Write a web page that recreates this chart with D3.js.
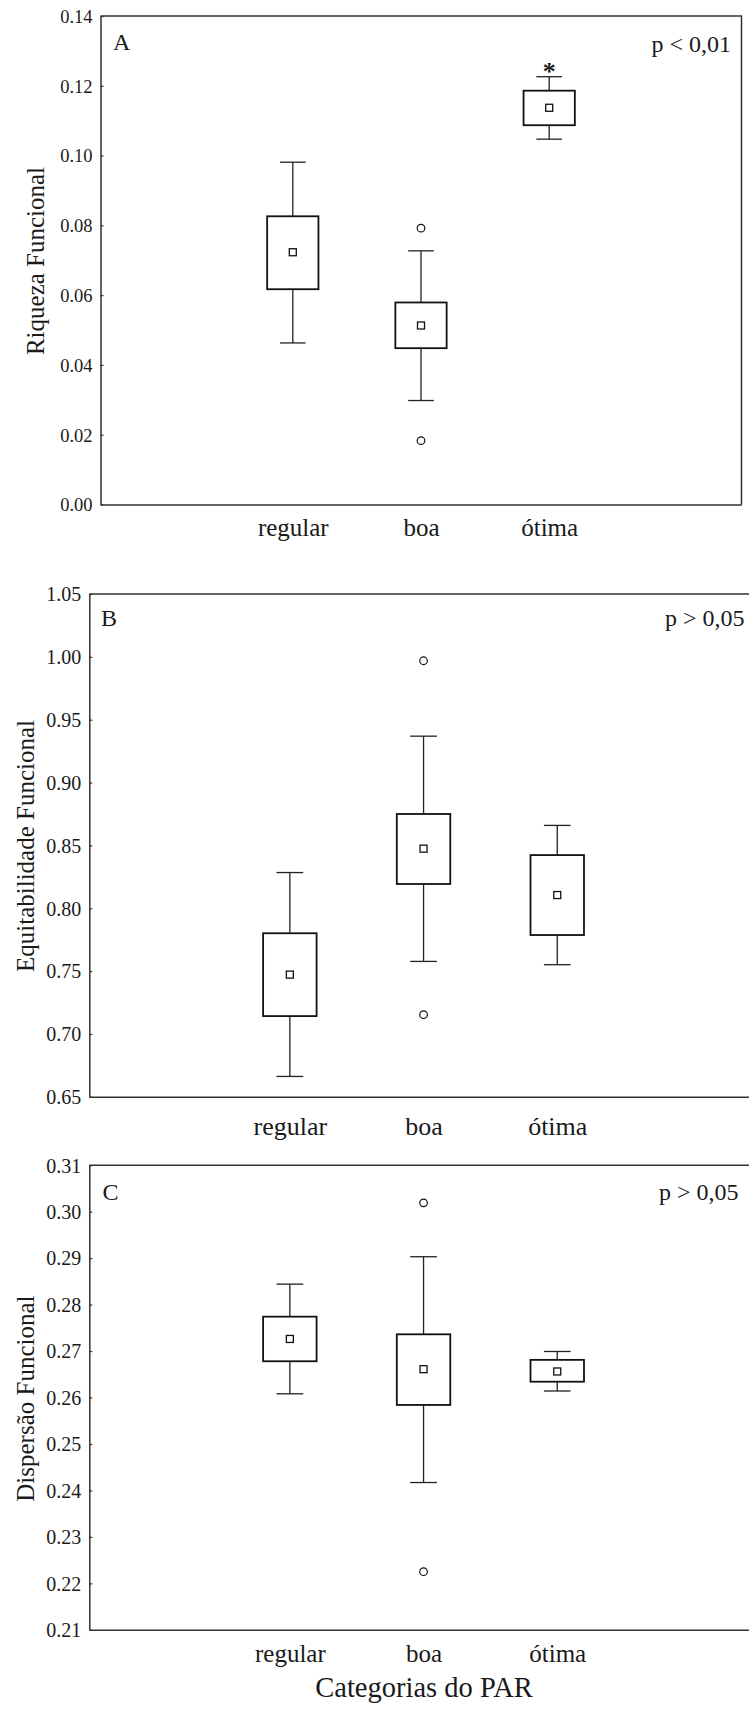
<!DOCTYPE html>
<html>
<head>
<meta charset="utf-8">
<script src="https://cdn.jsdelivr.net/npm/d3@7"></script>
<style>
  body { margin: 0; background: #fff; }
</style>
</head>
<body>
<div id="chart"></div>
<script>
// categories shared by the three panels
var categories = ["regular", "boa", "ótima"];

// each box: [whisker low, box low, mean, box high, whisker high]
var riqueza = [
    [0.0463, 0.0617, 0.0723, 0.0826, 0.0981],
    [0.0298, 0.0448, 0.0513, 0.0579, 0.0727],
    [0.1047, 0.1087, 0.1137, 0.1186, 0.1226]
];
var riquezaOutliers = [[], [0.0183, 0.0792], []];
var riquezaTicks = [0, 0.02, 0.04, 0.06, 0.08, 0.10, 0.12, 0.14];

var equitabilidade = [
    [0.6662, 0.7142, 0.7472, 0.7801, 0.8284],
    [0.7577, 0.8193, 0.8474, 0.8750, 0.9369],
    [0.7551, 0.7787, 0.8105, 0.8423, 0.8659]
];
var equitabilidadeOutliers = [[], [0.7153, 0.9969], []];
var equitabilidadeTicks = [0.65, 0.70, 0.75, 0.80, 0.85, 0.90, 0.95, 1.00, 1.05];

var dispersao = [
    [0.2608, 0.2678, 0.2726, 0.2774, 0.2844],
    [0.2417, 0.2584, 0.2661, 0.2736, 0.2903],
    [0.2614, 0.2634, 0.2656, 0.2681, 0.2699]
];
var dispersaoOutliers = [[], [0.2225, 0.3019], []];
var dispersaoTicks = [0.21, 0.22, 0.23, 0.24, 0.25, 0.26, 0.27, 0.28, 0.29, 0.30, 0.31];

var svgWidth = 749;
var svgHeight = 1711;
var serif = "'Liberation Serif', 'Times New Roman', Times, 'DejaVu Serif', serif";

var svg = d3.select("#chart")
    .append("svg")
    .attr("width", svgWidth)
    .attr("height", svgHeight);

// layout of each panel (pixels)
var panels = [
    {
        boxes: riqueza, outliers: riquezaOutliers, ticks: riquezaTicks,
        letter: "A", pText: "p < 0,01", star: 2, yTitle: "Riqueza Funcional",
        left: 100.5, right: 741.5, top: 16, bottom: 504.5,
        tickFont: 18.5, catFont: 25, catBase: 31.5,
        letterX: 113, letterY: 50, pX: 731, pY: 51.5, pAnchor: "end",
        titleX: 44, titleY: 261
    },
    {
        boxes: equitabilidade, outliers: equitabilidadeOutliers, ticks: equitabilidadeTicks,
        letter: "B", pText: "p > 0,05", star: -1, yTitle: "Equitabilidade Funcional",
        left: 89.3, right: 757.8, top: 594, bottom: 1096.8,
        tickFont: 20, catFont: 26, catBase: 38,
        letterX: 101, letterY: 625.5, pX: 665, pY: 625.5, pAnchor: "start",
        titleX: 33.5, titleY: 846
    },
    {
        boxes: dispersao, outliers: dispersaoOutliers, ticks: dispersaoTicks,
        letter: "C", pText: "p > 0,05", star: -1, yTitle: "Dispersão Funcional",
        left: 89.3, right: 757.8, top: 1165.2, bottom: 1629.8,
        tickFont: 20, catFont: 25, catBase: 32,
        letterX: 102.5, letterY: 1200, pX: 659, pY: 1200, pAnchor: "start",
        titleX: 33.5, titleY: 1398.6
    }
];

panels.forEach(function (p) {
    var g = svg.append("g");

    var xScale = d3.scalePoint()
        .domain(categories)
        .range([p.left, p.right])
        .padding(1.5);

    var yScale = d3.scaleLinear()
        .domain(d3.extent(p.ticks))
        .range([p.bottom, p.top]);

    var step = xScale.step();
    var boxW = step * 0.4;
    var capW = step * 0.2;

    // frame top & right
    g.append("path")
        .attr("d", `M${p.left},${p.top}H${p.right}V${p.bottom}`)
        .attr("fill", "none")
        .attr("stroke", "#333")
        .attr("stroke-width", 1.5);

    // y axis
    var leftAxis = d3.axisLeft(yScale)
        .tickValues(p.ticks)
        .tickFormat(d3.format(".2f"))
        .tickSizeInner(-3)
        .tickSizeOuter(0)
        .tickPadding(8);

    var yAxis = g.append("g")
        .attr("transform", `translate(${p.left},0)`)
        .call(leftAxis);
    yAxis.select(".domain").attr("stroke", "#333").attr("stroke-width", 1.5);
    yAxis.selectAll(".tick line").attr("stroke", "#333").attr("stroke-width", 1.2);
    yAxis.selectAll("text")
        .attr("font-size", p.tickFont)
        .attr("fill", "#1a1a1a")
        .attr("dy", "0.34em");

    // x axis
    var bottomAxis = d3.axisBottom(xScale)
        .tickSize(0)
        .tickPadding(p.catBase);

    var xAxis = g.append("g")
        .attr("transform", `translate(0,${p.bottom})`)
        .call(bottomAxis);
    xAxis.select(".domain").attr("stroke", "#333").attr("stroke-width", 1.5);
    xAxis.selectAll("text")
        .attr("dy", null)
        .attr("font-size", p.catFont)
        .attr("fill", "#1a1a1a");

    // boxes
    var box = g.selectAll(".box")
        .data(p.boxes)
        .enter()
        .append("g")
        .attr("class", "box");

    // whiskers
    box.append("line")
        .attr("x1", (d, i) => xScale(categories[i]))
        .attr("x2", (d, i) => xScale(categories[i]))
        .attr("y1", d => yScale(d[3]))
        .attr("y2", d => yScale(d[4]))
        .attr("stroke", "#222").attr("stroke-width", 1.3);
    box.append("line")
        .attr("x1", (d, i) => xScale(categories[i]))
        .attr("x2", (d, i) => xScale(categories[i]))
        .attr("y1", d => yScale(d[1]))
        .attr("y2", d => yScale(d[0]))
        .attr("stroke", "#222").attr("stroke-width", 1.3);

    // caps
    [0, 4].forEach(function (k) {
        box.append("line")
            .attr("x1", (d, i) => xScale(categories[i]) - capW / 2)
            .attr("x2", (d, i) => xScale(categories[i]) + capW / 2)
            .attr("y1", d => yScale(d[k]))
            .attr("y2", d => yScale(d[k]))
            .attr("stroke", "#222").attr("stroke-width", 1.3);
    });

    box.append("rect")
        .attr("x", (d, i) => xScale(categories[i]) - boxW / 2)
        .attr("y", d => yScale(d[3]))
        .attr("width", boxW)
        .attr("height", d => yScale(d[1]) - yScale(d[3]))
        .attr("fill", "#fff")
        .attr("stroke", "#111")
        .attr("stroke-width", 1.8);

    // mean
    box.append("rect")
        .attr("x", (d, i) => xScale(categories[i]) - 3.5)
        .attr("y", d => yScale(d[2]) - 3.5)
        .attr("width", 7)
        .attr("height", 7)
        .attr("fill", "#fff")
        .attr("stroke", "#111")
        .attr("stroke-width", 1.3);

    // outliers
    p.outliers.forEach(function (vals, i) {
        g.selectAll(null)
            .data(vals)
            .enter()
            .append("circle")
            .attr("cx", xScale(categories[i]))
            .attr("cy", d => yScale(d))
            .attr("r", 3.8)
            .attr("fill", "none")
            .attr("stroke", "#111")
            .attr("stroke-width", 1.2);
    });

    if (p.star >= 0) {
        g.append("text")
            .attr("x", xScale(categories[p.star]))
            .attr("y", yScale(p.boxes[p.star][4]) + 3)
            .attr("text-anchor", "middle")
            .attr("font-size", 26)
            .attr("font-weight", "bold")
            .text("*");
    }

    g.append("text")
        .attr("x", p.letterX)
        .attr("y", p.letterY)
        .attr("font-size", 24)
        .text(p.letter);

    g.append("text")
        .attr("x", p.pX)
        .attr("y", p.pY)
        .attr("text-anchor", p.pAnchor)
        .attr("font-size", 24)
        .text(p.pText);

    g.append("text")
        .attr("transform", `translate(${p.titleX},${p.titleY}) rotate(-90)`)
        .attr("text-anchor", "middle")
        .attr("font-size", 25)
        .text(p.yTitle);
});

svg.append("text")
    .attr("x", 424)
    .attr("y", 1697)
    .attr("text-anchor", "middle")
    .attr("font-size", 28.5)
    .text("Categorias do PAR");

// serif font on every label, set after the axes so it wins over their defaults
svg.selectAll("g").attr("font-family", null);
svg.selectAll("text")
    .style("font-family", serif)
    .style("fill", "#1a1a1a");
</script>
</body>
</html>
